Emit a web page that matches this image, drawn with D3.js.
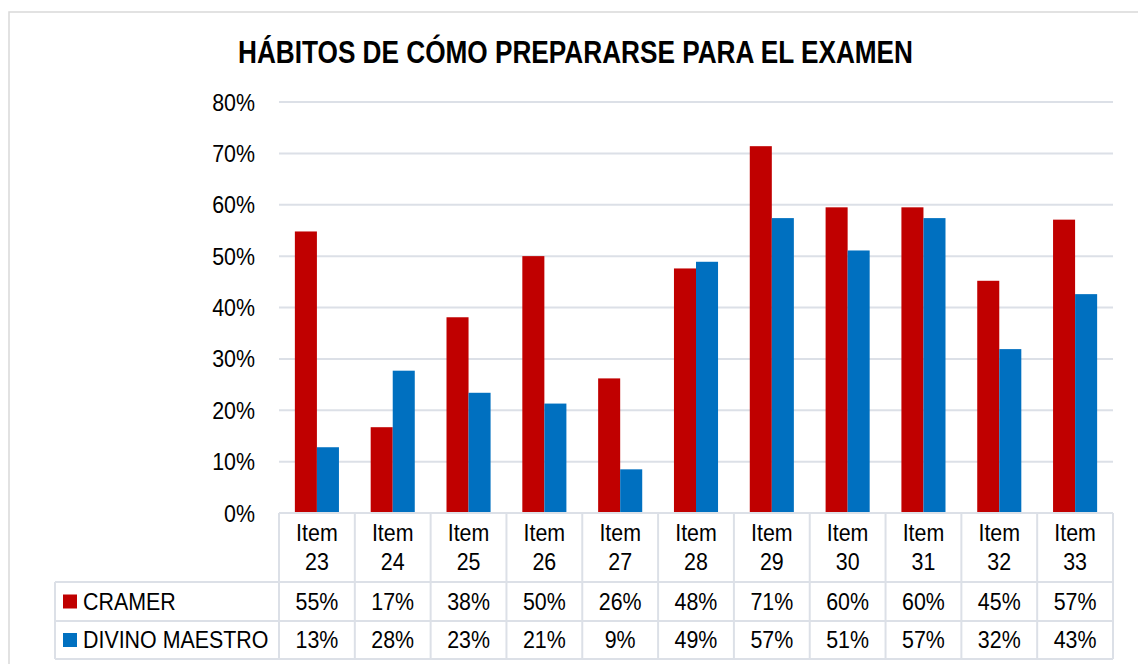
<!DOCTYPE html>
<html>
<head>
<meta charset="utf-8">
<script src="https://cdn.jsdelivr.net/npm/d3@7"></script>
<style>
	body { margin: 0; background: #fff; }
	svg text { font-family: "Liberation Sans", Arial, sans-serif; fill: #000; }
</style>
</head>
<body>
<div id="chart"></div>
<script>
// data
var title = 'HÁBITOS DE CÓMO PREPARARSE PARA EL EXAMEN';
var items = ['Item 23', 'Item 24', 'Item 25', 'Item 26', 'Item 27', 'Item 28',
	'Item 29', 'Item 30', 'Item 31', 'Item 32', 'Item 33'];
var seriesNames = ['CRAMER', 'DIVINO MAESTRO'];
var cramer = [0.548, 0.167, 0.381, 0.500, 0.262, 0.476, 0.714, 0.595, 0.595, 0.452, 0.571];
var divino = [0.128, 0.277, 0.234, 0.213, 0.085, 0.489, 0.574, 0.511, 0.574, 0.319, 0.426];
var yTicks = [0, 0.1, 0.2, 0.3, 0.4, 0.5, 0.6, 0.7, 0.8];
var colors = ['#C00000', '#0070C0'];

var width = 1138, height = 664;
var plot = {left: 279, right: 1113, top: 102, bottom: 513};
var tableLeft = 55;
var rowLines = [513, 582, 621, 659];
var gridColor = '#DCE0E7';
var narrow = 0.93;

var series = [cramer, divino];

// squeeze text horizontally (narrow font look)
function squeeze(sel, k) {
	sel.each(function() {
		var w = this.getComputedTextLength();
		d3.select(this)
			.attr('textLength', w * k)
			.attr('lengthAdjust', 'spacingAndGlyphs');
	});
}

var svg = d3.select('#chart').append('svg')
	.attr('width', width)
	.attr('height', height);

// outer frame of the chart
svg.append('path')
	.attr('d', 'M9,' + height + 'V12H' + width)
	.attr('fill', 'none')
	.attr('stroke', '#D9D9D9')
	.attr('stroke-width', 1.5);

svg.append('text')
	.attr('x', 575.5)
	.attr('y', 63)
	.attr('text-anchor', 'middle')
	.attr('font-size', 31)
	.attr('font-weight', 'bold')
	.attr('textLength', 675)
	.attr('lengthAdjust', 'spacingAndGlyphs')
	.text(title);

var x0 = d3.scaleBand()
	.domain(items)
	.range([plot.left, plot.right]);

var x1 = d3.scaleBand()
	.domain(seriesNames)
	.range([0, x0.bandwidth()])
	.paddingOuter(0.72);

var y = d3.scaleLinear()
	.domain([0, 0.8])
	.range([plot.bottom, plot.top]);

// gridlines
svg.append('g')
	.selectAll('line')
	.data(yTicks.slice(1))
	.enter().append('line')
	.attr('x1', plot.left)
	.attr('x2', plot.right)
	.attr('y1', function(d) { return y(d); })
	.attr('y2', function(d) { return y(d); })
	.attr('stroke', gridColor)
	.attr('stroke-width', 2);

var yAxis = d3.axisLeft(y)
	.tickValues(yTicks)
	.tickFormat(d3.format('.0%'))
	.tickSize(0)
	.tickPadding(0);

var yg = svg.append('g')
	.attr('transform', 'translate(255,0)')
	.call(yAxis);
yg.select('.domain').remove();
yg.selectAll('text')
	.attr('font-size', 23)
	.attr('font-family', null)
	.attr('dy', '0.35em')
	.call(squeeze, narrow);

// bars
var groups = svg.append('g')
	.selectAll('g')
	.data(items)
	.enter().append('g')
	.attr('transform', function(d) { return 'translate(' + x0(d) + ',0)'; });

groups.selectAll('rect')
	.data(function(d, i) { return seriesNames.map(function(s, j) { return {s: s, v: series[j][i], j: j}; }); })
	.enter().append('rect')
	.attr('x', function(d) { return x1(d.s); })
	.attr('y', function(d) { return y(d.v); })
	.attr('width', x1.bandwidth())
	.attr('height', function(d) { return y(0) - y(d.v); })
	.attr('fill', function(d) { return colors[d.j]; });

// data table
var tbl = svg.append('g')
	.attr('fill', 'none')
	.attr('stroke', gridColor)
	.attr('stroke-width', 2);

tbl.append('line')
	.attr('x1', plot.left).attr('x2', plot.right)
	.attr('y1', rowLines[0]).attr('y2', rowLines[0]);
rowLines.slice(1).forEach(function(ly) {
	tbl.append('line')
		.attr('x1', tableLeft).attr('x2', plot.right)
		.attr('y1', ly).attr('y2', ly);
});
tbl.append('line')
	.attr('x1', tableLeft).attr('x2', tableLeft)
	.attr('y1', rowLines[1]).attr('y2', rowLines[3]);
items.forEach(function(d) {
	tbl.append('line')
		.attr('x1', x0(d)).attr('x2', x0(d))
		.attr('y1', rowLines[0]).attr('y2', rowLines[3]);
});
tbl.append('line')
	.attr('x1', plot.right).attr('x2', plot.right)
	.attr('y1', rowLines[0]).attr('y2', rowLines[3]);

// header cells
var head = svg.append('g')
	.selectAll('text')
	.data(items)
	.enter().append('text')
	.attr('text-anchor', 'middle')
	.attr('font-size', 23);
head.append('tspan')
	.attr('x', function(d) { return x0(d) + x0.bandwidth() / 2; })
	.attr('y', 541)
	.text(function(d) { return d.split(' ')[0]; })
	.call(squeeze, narrow);
head.append('tspan')
	.attr('x', function(d) { return x0(d) + x0.bandwidth() / 2; })
	.attr('y', 570)
	.text(function(d) { return d.split(' ')[1]; })
	.call(squeeze, narrow);

// value rows
var fmt = d3.format('.0%');
seriesNames.forEach(function(name, j) {
	var cy = (rowLines[j + 1] + rowLines[j + 2]) / 2;
	svg.append('rect')
		.attr('x', 63)
		.attr('y', cy - 7)
		.attr('width', 14)
		.attr('height', 14)
		.attr('fill', colors[j]);
	svg.append('text')
		.attr('x', 83)
		.attr('y', cy)
		.attr('dy', '0.36em')
		.attr('font-size', 23)
		.text(name)
		.call(squeeze, narrow);
	svg.append('g')
		.selectAll('text')
		.data(series[j])
		.enter().append('text')
		.attr('x', function(d, i) { return x0(items[i]) + x0.bandwidth() / 2; })
		.attr('y', cy)
		.attr('dy', '0.36em')
		.attr('text-anchor', 'middle')
		.attr('font-size', 23)
		.text(function(d) { return fmt(d); })
		.call(squeeze, narrow);
});
</script>
</body>
</html>
